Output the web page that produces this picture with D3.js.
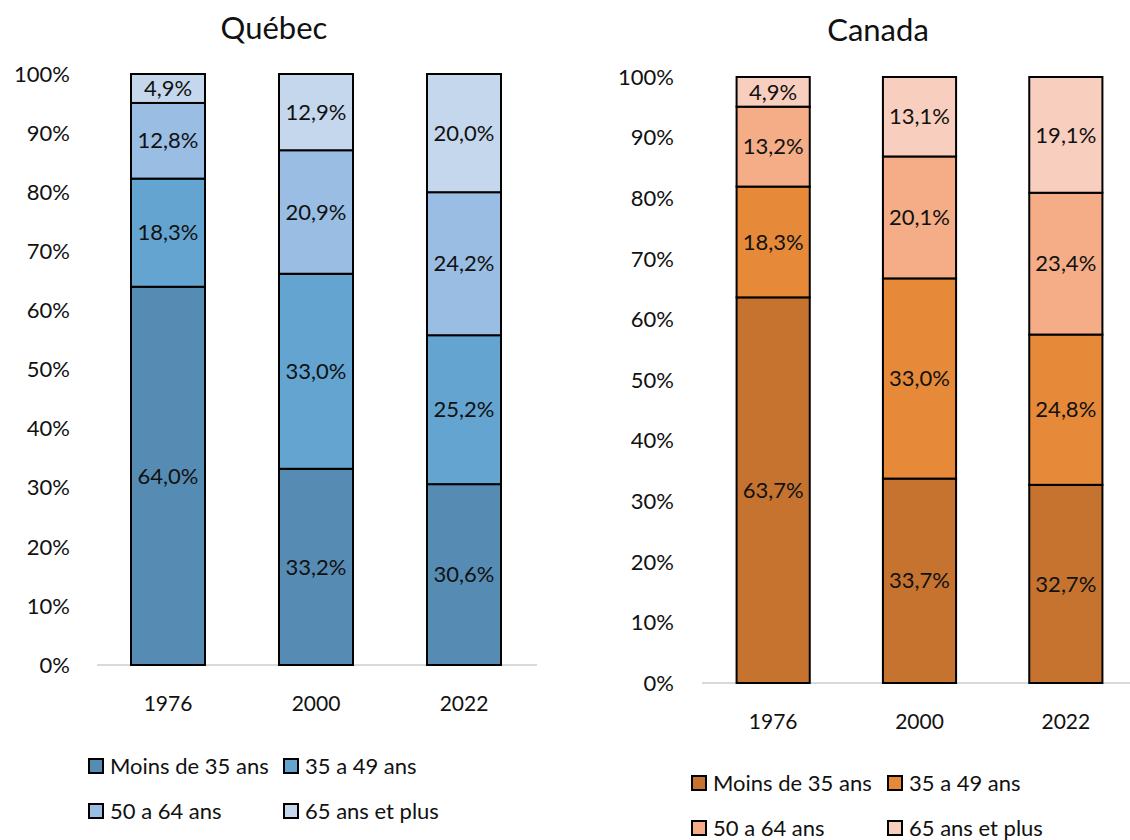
<!DOCTYPE html>
<html>
<head>
<meta charset="utf-8">
<script src="https://cdn.jsdelivr.net/npm/d3@7"></script>
<style>
  body { margin: 0; background: #fff; }
  svg { font-family: Lato, "Noto Sans", sans-serif; }
</style>
</head>
<body>
<svg id="chart" width="1130" height="840"></svg>
<script>
const years = ['1976', '2000', '2022'];
const groups = ['Moins de 35 ans', '35 a 49 ans', '50 a 64 ans', '65 ans et plus'];
const yTicks = [0, 0.1, 0.2, 0.3, 0.4, 0.5, 0.6, 0.7, 0.8, 0.9, 1];

// values per age group, one per year
const quebecValues = [
  [64.0, 33.2, 30.6],
  [18.3, 33.0, 25.2],
  [12.8, 20.9, 24.2],
  [4.9, 12.9, 20.0]
];
const canadaValues = [
  [63.7, 33.7, 32.7],
  [18.3, 33.0, 24.8],
  [13.2, 20.1, 23.4],
  [4.9, 13.1, 19.1]
];

const blues = ['#568cb4', '#64a4d0', '#99bde3', '#c5d7ec'];
const oranges = ['#c5732f', '#e68a3a', '#f4ad87', '#f8cfbe'];

const svg = d3.select('#chart');

function drawPanel(opts) {
  const { title, values, colors, left, right, top, bottom, titleX, tickRight, legendX, legendY } = opts;

  const x = d3.scaleBand()
    .domain(years)
    .range([left, right])
    .paddingInner(0.5)
    .paddingOuter(0.25);

  const y = d3.scaleLinear()
    .domain([0, 1])
    .range([bottom, top]);

  const g = svg.append('g');

  g.append('text')
    .attr('x', titleX)
    .attr('y', opts.titleY)
    .attr('text-anchor', 'middle')
    .style('font-size', '31px')
    .style('fill', '#111')
    .text(title);

  // y tick labels
  g.selectAll('.ytick')
    .data(yTicks)
    .enter()
    .append('text')
    .attr('x', tickRight)
    .attr('y', d => y(d))
    .attr('dy', '0.35em')
    .attr('text-anchor', 'end')
    .style('font-size', '22px')
    .style('fill', '#111')
    .text(d => Math.round(d * 100) + '%');

  // baseline
  g.append('line')
    .attr('x1', opts.axisX1)
    .attr('x2', opts.axisX2)
    .attr('y1', bottom)
    .attr('y2', bottom)
    .attr('stroke', '#d9d9d9')
    .attr('stroke-width', 2);

  // year labels
  g.selectAll('.xtick')
    .data(years)
    .enter()
    .append('text')
    .attr('x', d => x(d) + x.bandwidth() / 2)
    .attr('y', bottom + 39)
    .attr('dy', '0.35em')
    .attr('text-anchor', 'middle')
    .style('font-size', '21px')
    .style('fill', '#111')
    .text(d => d);

  const rows = years.map((yr, i) => {
    const r = { year: yr };
    const total = d3.sum(values, v => v[i]);
    groups.forEach((k, j) => { r[k] = values[j][i] / total; r[k + '_raw'] = values[j][i]; });
    return r;
  });

  const stacked = d3.stack().keys(groups)(rows);

  const layer = g.selectAll('.layer')
    .data(stacked)
    .enter()
    .append('g')
    .attr('fill', (d, i) => colors[i]);

  layer.selectAll('rect')
    .data(d => d.map(p => Object.assign(p, { key: d.key })))
    .enter()
    .append('rect')
    .attr('x', d => x(d.data.year))
    .attr('y', d => y(d[1]))
    .attr('width', x.bandwidth())
    .attr('height', d => y(d[0]) - y(d[1]))
    .attr('stroke', '#000')
    .attr('stroke-width', 2);

  layer.selectAll('text')
    .data(d => d)
    .enter()
    .append('text')
    .attr('x', d => x(d.data.year) + x.bandwidth() / 2)
    .attr('y', d => (y(d[0]) + y(d[1])) / 2)
    .attr('dy', '0.35em')
    .attr('text-anchor', 'middle')
    .style('font-size', '22px')
    .style('fill', '#111')
    .text(d => d3.format('.1f')(d.data[d.key + '_raw']).replace('.', ',') + '%');

  // legend, two per row
  const legend = g.selectAll('.legend')
    .data(groups)
    .enter()
    .append('g')
    .attr('transform', (d, i) => `translate(${legendX[i % 2]}, ${legendY + Math.floor(i / 2) * 45})`);

  legend.append('rect')
    .attr('x', 0)
    .attr('y', -7)
    .attr('width', 14)
    .attr('height', 14)
    .attr('fill', (d, i) => colors[i])
    .attr('stroke', '#000')
    .attr('stroke-width', 2);

  legend.append('text')
    .attr('x', 21)
    .attr('y', 0)
    .attr('dy', '0.35em')
    .style('font-size', '22px')
    .style('fill', '#111')
    .text(d => d);
}

drawPanel({
  title: 'Québec', values: quebecValues, colors: blues,
  left: 94, right: 538, top: 74, bottom: 665,
  axisX1: 97, axisX2: 537,
  titleX: 274, titleY: 39, tickRight: 70,
  legendX: [89, 284], legendY: 766
});

drawPanel({
  title: 'Canada', values: canadaValues, colors: oranges,
  left: 700, right: 1139, top: 77, bottom: 683,
  axisX1: 702, axisX2: 1140,
  titleX: 878, titleY: 41, tickRight: 674,
  legendX: [692, 888], legendY: 783
});
</script>
</body>
</html>
